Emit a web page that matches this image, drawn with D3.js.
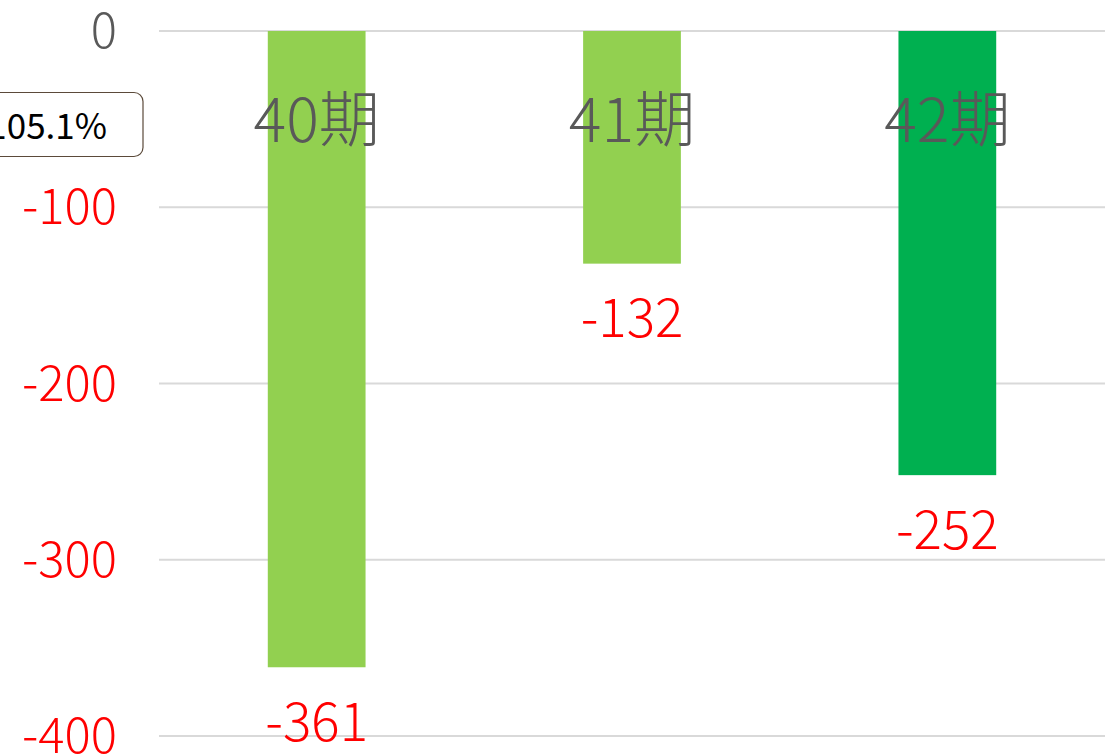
<!DOCTYPE html>
<html>
<head>
<meta charset="utf-8">
<script src="https://cdn.jsdelivr.net/npm/d3@7"></script>
<style>
  body { margin: 0; background: #fff; overflow: hidden; }
  svg { display: block; font-family: "Noto Sans CJK JP", "Noto Sans", sans-serif; font-weight: 300; }
</style>
</head>
<body>
<div id="chart"></div>
<script>
// data
var periods = ["40期", "41期", "42期"];
var values = [-361, -132, -252];
var barColors = ["#92D050", "#92D050", "#00B050"];
var yTicks = [0, -100, -200, -300, -400];
var ratioLabel = "105.1%";

var W = 1119, H = 755;
var margin = { top: 31, right: 14, bottom: 19, left: 159 };

var svg = d3.select("#chart")
    .append("svg")
    .attr("width", W)
    .attr("height", H);

var x = d3.scaleBand()
    .domain(periods)
    .range([margin.left, W - margin.right])
    .padding(0);

var y = d3.scaleLinear()
    .domain([0, -400])
    .range([margin.top, H - margin.bottom]);

// gridlines
svg.append("g")
    .selectAll("line")
    .data(yTicks)
    .enter()
    .append("line")
    .attr("x1", margin.left)
    .attr("x2", W - margin.right)
    .attr("y1", d => y(d))
    .attr("y2", d => y(d))
    .attr("stroke", "#d9d9d9")
    .attr("stroke-width", 2);

// y tick labels
svg.append("g")
    .selectAll("text")
    .data(yTicks)
    .enter()
    .append("text")
    .attr("x", 117)
    .attr("y", d => y(d))
    .attr("dy", "0.35em")
    .attr("text-anchor", "end")
    .attr("font-size", 49)
    .attr("fill", d => d < 0 ? "#FF0000" : "#595959")
    .text(d => d);

// bars
var barW = x.bandwidth() * 0.31;
svg.append("g")
    .selectAll("rect")
    .data(values)
    .enter()
    .append("rect")
    .attr("x", (d, i) => x(periods[i]) + x.bandwidth() / 2 - barW / 2)
    .attr("y", y(0))
    .attr("width", barW)
    .attr("height", d => y(d) - y(0))
    .attr("fill", (d, i) => barColors[i]);

// category labels near the top
svg.append("g")
    .selectAll("text")
    .data(periods)
    .enter()
    .append("text")
    .attr("x", d => x(d) + x.bandwidth() / 2)
    .attr("y", 121)
    .attr("dy", "0.35em")
    .attr("text-anchor", "middle")
    .attr("font-size", 61)
    .attr("fill", "#595959")
    .text(d => d);

// value labels under the bars
svg.append("g")
    .selectAll("text")
    .data(values)
    .enter()
    .append("text")
    .attr("x", (d, i) => x(periods[i]) + x.bandwidth() / 2)
    .attr("y", d => y(d) + 55)
    .attr("dy", "0.35em")
    .attr("text-anchor", "middle")
    .attr("font-size", 53)
    .attr("fill", "#FF0000")
    .text(d => d);

// ratio box, cut by the left edge
var box = svg.append("g");
box.append("rect")
    .attr("x", -20)
    .attr("y", 92.5)
    .attr("width", 163)
    .attr("height", 64)
    .attr("rx", 9)
    .attr("fill", "#fff")
    .attr("stroke", "#5b4a3a")
    .attr("stroke-width", 1.2);
box.append("text")
    .attr("x", 107)
    .attr("y", 127)
    .attr("dy", "0.35em")
    .attr("text-anchor", "end")
    .attr("font-size", 35)
    .attr("font-weight", 400)
    .attr("fill", "#000")
    .text(ratioLabel);
</script>
</body>
</html>
